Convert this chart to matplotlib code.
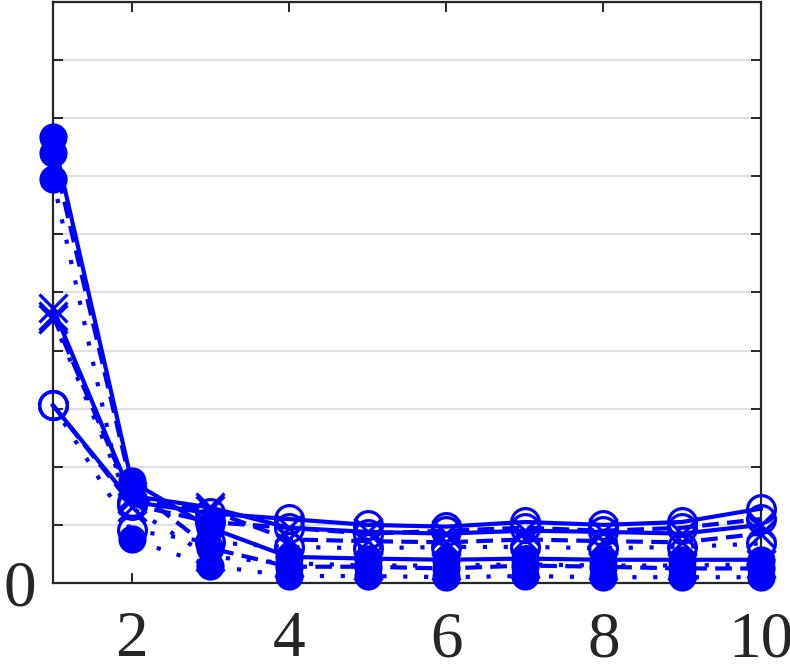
import matplotlib
matplotlib.use("Agg")
import matplotlib.pyplot as plt

x = [1, 2, 3, 4, 5, 6, 7, 8, 9, 10]

# series values (y in grid units)
open_solid  = [3.06, 1.40, 1.20, 1.10, 1.00, 0.97, 1.05, 1.00, 1.05, 1.28]
open_dash   = [3.06, 1.35, 1.05, 0.95, 0.85, 0.90, 0.95, 0.90, 0.95, 1.10]
open_dot    = [3.06, 0.91, 0.70, 0.62, 0.60, 0.62, 0.62, 0.60, 0.62, 0.68]
cross_solid = [4.73, 1.50, 1.30, 0.95, 0.88, 0.85, 0.90, 0.88, 0.85, 1.00]
cross_dash  = [4.60, 1.45, 1.25, 0.75, 0.72, 0.70, 0.75, 0.72, 0.70, 0.85]
cross_dot   = [4.54, 1.30, 0.45, 0.34, 0.30, 0.30, 0.32, 0.30, 0.30, 0.32]
fill_solid  = [7.68, 1.75, 0.95, 0.45, 0.42, 0.40, 0.42, 0.40, 0.40, 0.40]
fill_dash   = [7.40, 1.65, 0.60, 0.28, 0.28, 0.25, 0.30, 0.28, 0.25, 0.25]
fill_dot    = [6.96, 0.75, 0.30, 0.12, 0.12, 0.10, 0.12, 0.10, 0.10, 0.10]

xticks = [2, 4, 6, 8, 10]
xticklabels = ["2", "4", "6", "8", "10"]
yticks = [0, 1, 2, 3, 4, 5, 6, 7, 8, 9, 10]
yticklabels = ["0", "", "", "", "", "", "", "", "", "", ""]

plt.rcParams['font.family'] = 'Liberation Serif'

fig = plt.figure(figsize=(7.9, 6.64), dpi=100)
ax = fig.add_axes([0.067, 0.122, 0.896, 0.875])

blue = '#0000ff'
dot_ls = (0, (1, 4))
dash_ls = (0, (4, 2))

series = [
    (open_solid, 'o', 'none', '-'),
    (open_dash, 'o', 'none', dash_ls),
    (open_dot, 'o', 'none', dot_ls),
    (cross_solid, 'x', blue, '-'),
    (cross_dash, 'x', blue, dash_ls),
    (cross_dot, 'x', blue, dot_ls),
    (fill_solid, 'o', blue, '-'),
    (fill_dash, 'o', blue, dash_ls),
    (fill_dot, 'o', blue, dot_ls),
]

for ys, mk, fc, ls in series:
    if fc == 'none':
        ms = 20
    elif mk == 'x':
        ms = 20
    else:
        ms = 18
    ax.plot(x, ys, color=blue, linestyle=ls, linewidth=3.0,
            marker=mk, markersize=ms, markerfacecolor=fc,
            markeredgecolor=blue, markeredgewidth=2.3, clip_on=False, zorder=3)

ax.set_xlim(1, 10)
ax.set_ylim(0, 10)
ax.set_xticks(xticks)
ax.set_xticklabels(xticklabels, fontfamily='Liberation Serif', fontsize=47)
ax.set_yticks(yticks)
ax.set_yticklabels(yticklabels, fontfamily='Liberation Serif', fontsize=47)

ax.yaxis.grid(True, color='#e0e0e0', linewidth=1.6)
ax.set_axisbelow(True)

for s in ax.spines.values():
    s.set_color('#262626')
    s.set_linewidth(1.6)

ax.tick_params(axis='both', direction='in', length=7, width=1.4, color='#262626',
               top=True, right=True, labelcolor='#262626')
ax.tick_params(axis='x', pad=20)
ax.tick_params(axis='y', pad=12)

fig.savefig("out.png", dpi=100)
